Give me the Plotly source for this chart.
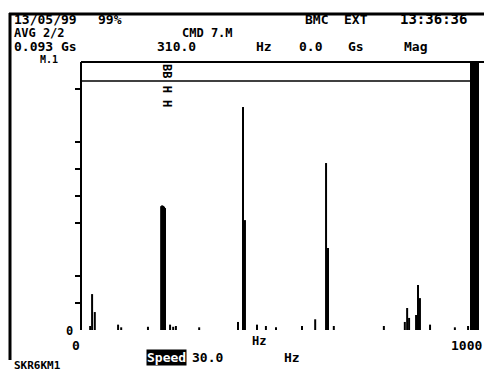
import plotly.graph_objects as go

# ---------------- data ----------------
# spectrum lines (frequency in Hz, amplitude in screen divisions 0..10)
freq_hz = [21, 26, 33, 93, 101, 170, 204, 206.5, 209, 211.5, 214, 227, 235, 242,
           302, 402, 415, 420, 451, 474, 500, 567, 601, 629, 634, 649, 778,
           832, 838, 843, 861, 866, 871, 897, 961, 995]
amplitude = [0.15, 1.34, 0.67, 0.2, 0.1, 0.12, 4.62, 4.65, 4.63, 4.6, 4.55, 0.2, 0.12, 0.15,
             0.1, 0.3, 8.32, 4.1, 0.2, 0.15, 0.1, 0.15, 0.4, 6.23, 3.06, 0.15, 0.15,
             0.3, 0.82, 0.45, 0.56, 1.68, 1.19, 0.2, 0.1, 0.15]

y_tick_vals = [1, 2, 4, 5, 6, 7, 9]
x_tick_vals = [0, 1000]
x_tick_text = ["0", "1000"]

# ---------------- layout helpers (page pixel -> paper) ----------------
L, R, T, B = 82, 470, 62, 330      # plot area in page pixels
W, H = 484, 372                    # page size


def PX(x):
    return (x - L) / (R - L)


def PY(y):
    return (B - y) / (B - T)


FONT = "DejaVu Sans Mono"

xs, ys = [], []
for f, a in zip(freq_hz, amplitude):
    xs += [f, f, None]
    ys += [0, a, None]

fig = go.Figure()
fig.add_trace(go.Scatter(x=xs, y=ys, mode="lines",
                         line=dict(color="black", width=2),
                         hoverinfo="skip", showlegend=False))

fig.update_layout(
    width=W, height=H,
    margin=dict(l=L, r=W - R, t=T, b=H - B, pad=0),
    paper_bgcolor="white", plot_bgcolor="white",
    showlegend=False,
    xaxis=dict(range=[0, 1000], showgrid=False, zeroline=False, showline=False,
               ticks="", showticklabels=False, fixedrange=True),
    yaxis=dict(range=[0, 10], showgrid=False, zeroline=False, showline=True,
               linecolor="black", linewidth=2, ticks="outside", ticklen=5,
               tickwidth=2, tickcolor="black", tickvals=y_tick_vals,
               showticklabels=False, fixedrange=True),
)

shapes = [
    # outer screen frame
    dict(type="line", xref="paper", yref="paper", x0=PX(9), x1=PX(484), y0=PY(14), y1=PY(14),
         line=dict(color="black", width=3)),
    dict(type="line", xref="paper", yref="paper", x0=PX(10), x1=PX(10), y0=PY(13), y1=PY(360),
         line=dict(color="black", width=3)),
    # plot box top and header strip
    dict(type="line", xref="paper", yref="paper", x0=PX(81), x1=PX(484), y0=PY(62), y1=PY(62),
         line=dict(color="black", width=2)),
    dict(type="line", xref="paper", yref="paper", x0=PX(81), x1=PX(470), y0=PY(81), y1=PY(81),
         line=dict(color="black", width=1.5)),
    # right black bar
    dict(type="rect", xref="paper", yref="paper", x0=PX(470), x1=PX(479), y0=PY(330), y1=PY(61),
         fillcolor="black", line=dict(width=0)),
]
fig.update_layout(shapes=shapes)


def txt(s, x, y, size=12, anchor="left", color="black", bg=None, angle=0):
    d = dict(text=s, x=PX(x), y=PY(y), xref="paper", yref="paper", showarrow=False,
             xanchor=anchor, yanchor="middle", textangle=angle,
             font=dict(family=FONT, size=size, color=color, weight="bold"))
    if bg:
        d["bgcolor"] = bg
        d["borderpad"] = 0
    fig.add_annotation(**d)


# header rows
txt("13/05/99", 12, 19, size=13)
txt("99%", 96, 19, size=13)
txt("BMC", 303, 19, size=13)
txt("EXT", 342, 19, size=13)
txt("13:36:36", 398, 19, size=14)
txt("AVG 2/2", 12, 33)
txt("CMD 7.M", 180, 33)
txt("0.093 Gs", 12, 46, size=13)
txt("310.0", 155, 46, size=13)
txt("Hz", 254, 46, size=13)
txt("0.0", 297, 46, size=13)
txt("Gs", 346, 46, size=13)
txt("Mag", 402, 46, size=13)
txt("M.1", 38, 59, size=10)

# cursor marker
txt("BB H H", 167, 85, size=12, anchor="center", angle=90)

# x tick labels (from the tick arrays)
for v, t, anc, sh in zip(x_tick_vals, x_tick_text, ["right", "right"], [0, 14]):
    fig.add_annotation(text=t, x=v, y=PY(345), xref="x", yref="paper", showarrow=False,
                       xanchor=anc, yanchor="middle", xshift=sh,
                       font=dict(family=FONT, size=13, color="black", weight="bold"))

# axis annotations
txt("0", 64, 331)
txt("Hz", 250, 341)
txt("Speed", 146, 357, size=13, color="white", bg="black")
txt("30.0", 190, 357, size=13)
txt("Hz", 282, 357, size=13)
txt("SKR6KM1", 12, 365, size=11)

fig.write_html("out.html", config={"displayModeBar": False},
               post_script="document.body.style.margin='0';")
